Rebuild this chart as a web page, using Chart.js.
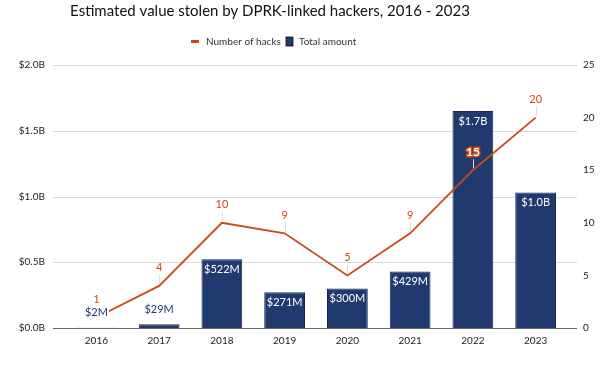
<!DOCTYPE html>
<html lang="en">
<head>
    <meta charset="UTF-8">
    <title>DPRK-linked hacks</title>
    <script src="https://cdn.jsdelivr.net/npm/chart.js"></script>
    <style>
        body { margin: 0; background: #fff; }
        #wrap { width: 600px; height: 390px; }
    </style>
</head>
<body>
    <div id="wrap"><canvas id="hackChart"></canvas></div>
    <script>
        const years = ['2016', '2017', '2018', '2019', '2020', '2021', '2022', '2023'];
        const amountBillions = [0.002, 0.029, 0.522, 0.271, 0.300, 0.429, 1.65, 1.03];
        const amountLabels = ['$2M', '$29M', '$522M', '$271M', '$300M', '$429M', '$1.7B', '$1.0B'];
        const hackCounts = [1, 4, 10, 9, 5, 9, 15, 20];
        const leftTicks = ['$0.0B', '$0.5B', '$1.0B', '$1.5B', '$2.0B'];

        const titleText = 'Estimated value stolen by DPRK-linked hackers, 2016 - 2023';
        const navy = '#203a6f';
        const orange = '#c84b16';
        const fontFamily = 'Lato, "Open Sans", sans-serif';

        // title + legend drawn by hand so they sit where the original has them
        const headerPlugin = {
            id: 'header',
            afterDraw(chart) {
                const ctx = chart.ctx;
                ctx.save();
                ctx.textBaseline = 'middle';
                ctx.fillStyle = '#111';
                ctx.font = '15px ' + fontFamily;
                ctx.textAlign = 'center';
                ctx.fillText(titleText, 270, 11);

                ctx.textAlign = 'left';
                ctx.font = '10px ' + fontFamily;
                ctx.fillStyle = orange;
                ctx.fillRect(191, 40, 8, 3);
                ctx.fillStyle = '#333';
                ctx.fillText('Number of hacks', 206, 41.5);
                ctx.fillStyle = navy;
                ctx.fillRect(286, 37, 7, 9);
                ctx.strokeStyle = '#111';
                ctx.lineWidth = 0.8;
                ctx.strokeRect(286, 37, 7, 9);
                ctx.fillStyle = '#333';
                ctx.fillText('Total amount', 299, 41.5);
                ctx.restore();
            }
        };

        // gridlines reach a little past the bars on both sides
        const gridPlugin = {
            id: 'wideGrid',
            beforeDatasetsDraw(chart) {
                const ctx = chart.ctx;
                const area = chart.chartArea;
                const yScale = chart.scales.yLeft;
                ctx.save();
                yScale.ticks.forEach(t => {
                    const y = Math.round(yScale.getPixelForValue(t.value)) + 0.5;
                    ctx.beginPath();
                    ctx.strokeStyle = t.value === 0 ? '#666' : '#d9d9d9';
                    ctx.lineWidth = t.value === 0 ? 1.2 : 1;
                    ctx.moveTo(area.left - 12, y);
                    ctx.lineTo(area.right + 10, y);
                    ctx.stroke();
                });
                ctx.restore();
            }
        };

        // value labels on bars and points
        const labelPlugin = {
            id: 'valueLabels',
            afterDatasetsDraw(chart) {
                const ctx = chart.ctx;
                ctx.save();
                ctx.textAlign = 'center';
                ctx.textBaseline = 'middle';

                const lineMeta = chart.getDatasetMeta(0);
                lineMeta.data.forEach((pt, i) => {
                    const y = pt.y - 18;
                    ctx.strokeStyle = '#dddddd';
                    ctx.lineWidth = 1;
                    ctx.beginPath();
                    ctx.moveTo(Math.round(pt.x) + 0.5, y + 7);
                    ctx.lineTo(Math.round(pt.x) + 0.5, pt.y - 2);
                    ctx.stroke();
                });

                const barMeta = chart.getDatasetMeta(1);
                barMeta.data.forEach((bar, i) => {
                    const h = bar.base - bar.y;
                    if (h > 30) {
                        ctx.font = '11px ' + fontFamily;
                        ctx.fillStyle = '#ffffff';
                        ctx.fillText(amountLabels[i], bar.x, bar.y + 10);
                    } else {
                        ctx.font = '11px ' + fontFamily;
                        const w = ctx.measureText(amountLabels[i]).width;
                        const y = bar.y - 15;
                        ctx.fillStyle = '#ffffff';
                        ctx.fillRect(bar.x - w / 2 - 1, y - 6, w + 2, 12);
                        ctx.fillStyle = navy;
                        ctx.fillText(amountLabels[i], bar.x, y);
                    }
                });

                lineMeta.data.forEach((pt, i) => {
                    const y = pt.y - 18;
                    const txt = String(hackCounts[i]);
                    if (i === 6) {
                        ctx.font = 'bold 12px ' + fontFamily;
                        ctx.lineWidth = 3;
                        ctx.strokeStyle = orange;
                        ctx.strokeText(txt, pt.x, y);
                        ctx.fillStyle = '#ffffff';
                        ctx.fillText(txt, pt.x, y);
                    } else {
                        ctx.font = '11px ' + fontFamily;
                        ctx.fillStyle = orange;
                        ctx.fillText(txt, pt.x, y);
                    }
                });
                ctx.restore();
            }
        };

        const ctx = document.getElementById('hackChart').getContext('2d');
        new Chart(ctx, {
            data: {
                labels: years,
                datasets: [{
                    type: 'line',
                    label: 'Number of hacks',
                    data: hackCounts,
                    yAxisID: 'yRight',
                    borderColor: orange,
                    backgroundColor: orange,
                    borderWidth: 1.8,
                    pointRadius: 0,
                    tension: 0,
                    order: 0
                }, {
                    type: 'bar',
                    label: 'Total amount',
                    data: amountBillions,
                    yAxisID: 'yLeft',
                    backgroundColor: navy,
                    borderColor: '#16294f',
                    borderWidth: 1,
                    barPercentage: 0.65,
                    categoryPercentage: 1.0,
                    order: 1
                }]
            },
            options: {
                responsive: true,
                maintainAspectRatio: false,
                animation: false,
                layout: { padding: { left: 0, right: 0, top: 65, bottom: 34 } },
                plugins: {
                    legend: { display: false },
                    title: { display: false },
                    tooltip: { enabled: false }
                },
                scales: {
                    x: {
                        grid: { display: false, drawTicks: false },
                        border: { display: false },
                        ticks: { color: '#222', padding: 7, font: { family: fontFamily, size: 10 } },
                        afterFit(scale) { scale.height = 28; }
                    },
                    yLeft: {
                        position: 'left',
                        min: 0,
                        max: 2,
                        ticks: {
                            stepSize: 0.5,
                            color: '#222',
                            padding: 20,
                            font: { family: fontFamily, size: 10 },
                            callback: (v, i) => leftTicks[i]
                        },
                        grid: { display: false, drawTicks: false },
                        border: { display: false },
                        afterFit(scale) { scale.width = 65; }
                    },
                    yRight: {
                        position: 'right',
                        min: 0,
                        max: 25,
                        ticks: {
                            stepSize: 5,
                            color: '#222',
                            padding: 16,
                            font: { family: fontFamily, size: 10 }
                        },
                        grid: { display: false, drawTicks: false },
                        border: { display: false },
                        afterFit(scale) { scale.width = 33; }
                    }
                }
            },
            plugins: [gridPlugin, labelPlugin, headerPlugin]
        });
    </script>
</body>
</html>
